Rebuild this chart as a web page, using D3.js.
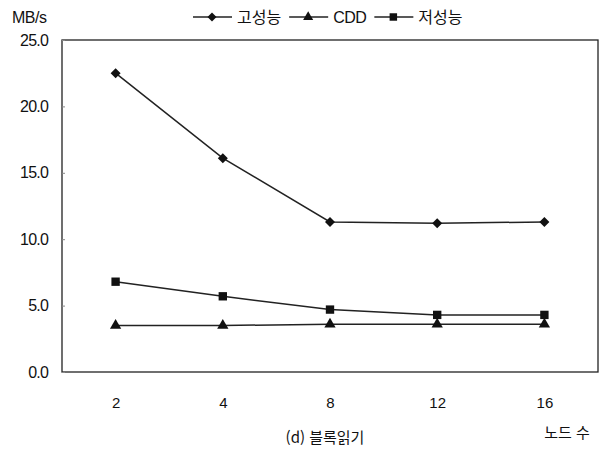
<!DOCTYPE html>
<html lang="ko">
<head>
<meta charset="UTF-8">
<title>블록읽기</title>
<script src="https://d3js.org/d3.v7.min.js"></script>
<style>
  body { margin: 0; background: #fff; }
  text { font-family: "Liberation Sans", Arial, sans-serif; fill: #111; }
  .kr { font-family: "Noto Sans CJK KR", sans-serif; }
</style>
</head>
<body>
<script>
const nodes = ["2", "4", "8", "12", "16"];
const high = [22.5, 16.1, 11.3, 11.2, 11.3];
const cdd = [3.5, 3.5, 3.6, 3.6, 3.6];
const low = [6.8, 5.7, 4.7, 4.3, 4.3];
const yTicks = [0, 5, 10, 15, 20, 25];

// diamond = square turned 45 degrees (wider than d3's diamond)
const series = [
  { name: "고성능", values: high, shape: d3.symbolSquare, size: 50, rot: 45 },
  { name: "CDD", values: cdd, shape: d3.symbolTriangle, size: 55, rot: 0 },
  { name: "저성능", values: low, shape: d3.symbolSquare, size: 70, rot: 0 }
];

const width = 606, height = 450;
const m = { left: 62, right: 8, top: 40, bottom: 78 };

const svg = d3.select("body").append("svg")
  .attr("width", width)
  .attr("height", height);

const x = d3.scalePoint().domain(nodes)
  .range([m.left, width - m.right]).padding(0.5);
const y = d3.scaleLinear().domain([0, 25])
  .range([height - m.bottom, m.top]);

// frame
svg.append("rect")
  .attr("x", m.left).attr("y", m.top)
  .attr("width", width - m.left - m.right)
  .attr("height", height - m.top - m.bottom)
  .attr("fill", "none").attr("stroke", "#222").attr("stroke-width", 1.3);

// y axis
const yAxis = svg.append("g")
  .attr("transform", `translate(${m.left},0)`)
  .call(d3.axisLeft(y).tickValues(yTicks).tickFormat(d3.format(".1f")).tickSizeInner(-3).tickSizeOuter(0).tickPadding(14));
yAxis.select(".domain").remove();
yAxis.selectAll("line").attr("stroke", "#888");
yAxis.selectAll("text").attr("font-size", 16).attr("letter-spacing", -0.8);

// x axis
const xAxis = svg.append("g")
  .attr("transform", `translate(0,${height - m.bottom})`)
  .call(d3.axisBottom(x).tickSize(0).tickPadding(25));
xAxis.select(".domain").remove();
xAxis.selectAll("text").attr("font-size", 15);

// lines and markers
const line = d3.line().x((d, i) => x(nodes[i])).y(d => y(d));

series.forEach(s => {
  svg.append("path")
    .datum(s.values)
    .attr("d", line)
    .attr("fill", "none")
    .attr("stroke", "#222")
    .attr("stroke-width", 1.5);

  svg.append("g").selectAll("path")
    .data(s.values)
    .join("path")
    .attr("transform", (d, i) => `translate(${x(nodes[i])},${y(d)}) rotate(${s.rot})`)
    .attr("d", d3.symbol().type(s.shape).size(s.size))
    .attr("fill", "#111");
});

// legend
const legend = svg.append("g").attr("transform", "translate(193,17)");
let lx = 0;
series.forEach(s => {
  const g = legend.append("g").attr("transform", `translate(${lx},0)`);
  g.append("line").attr("x1", 0).attr("x2", 39).attr("y1", 0).attr("y2", 0)
    .attr("stroke", "#222").attr("stroke-width", 1.5);
  g.append("path").attr("transform", `translate(19,0) rotate(${s.rot})`)
    .attr("d", d3.symbol().type(s.shape).size(s.size * 0.8))
    .attr("fill", "#111");
  const t = g.append("text").attr("x", 44).attr("y", 6)
    .attr("font-size", 16)
    .attr("letter-spacing", s.name === "CDD" ? -0.5 : 0)
    .attr("class", s.name === "CDD" ? null : "kr")
    .text(s.name);
  lx += 44 + t.node().getComputedTextLength() + 8;
});

// labels
svg.append("text").attr("x", 12).attr("y", 23).attr("font-size", 16)
  .attr("letter-spacing", -0.5).text("MB/s");
svg.append("text").attr("class", "kr").attr("x", 325).attr("y", 443)
  .attr("text-anchor", "middle").attr("font-size", 15).text("(d) 블록읽기");
svg.append("text").attr("class", "kr").attr("x", 567).attr("y", 438)
  .attr("text-anchor", "middle").attr("font-size", 15).text("노드 수");
</script>
</body>
</html>
